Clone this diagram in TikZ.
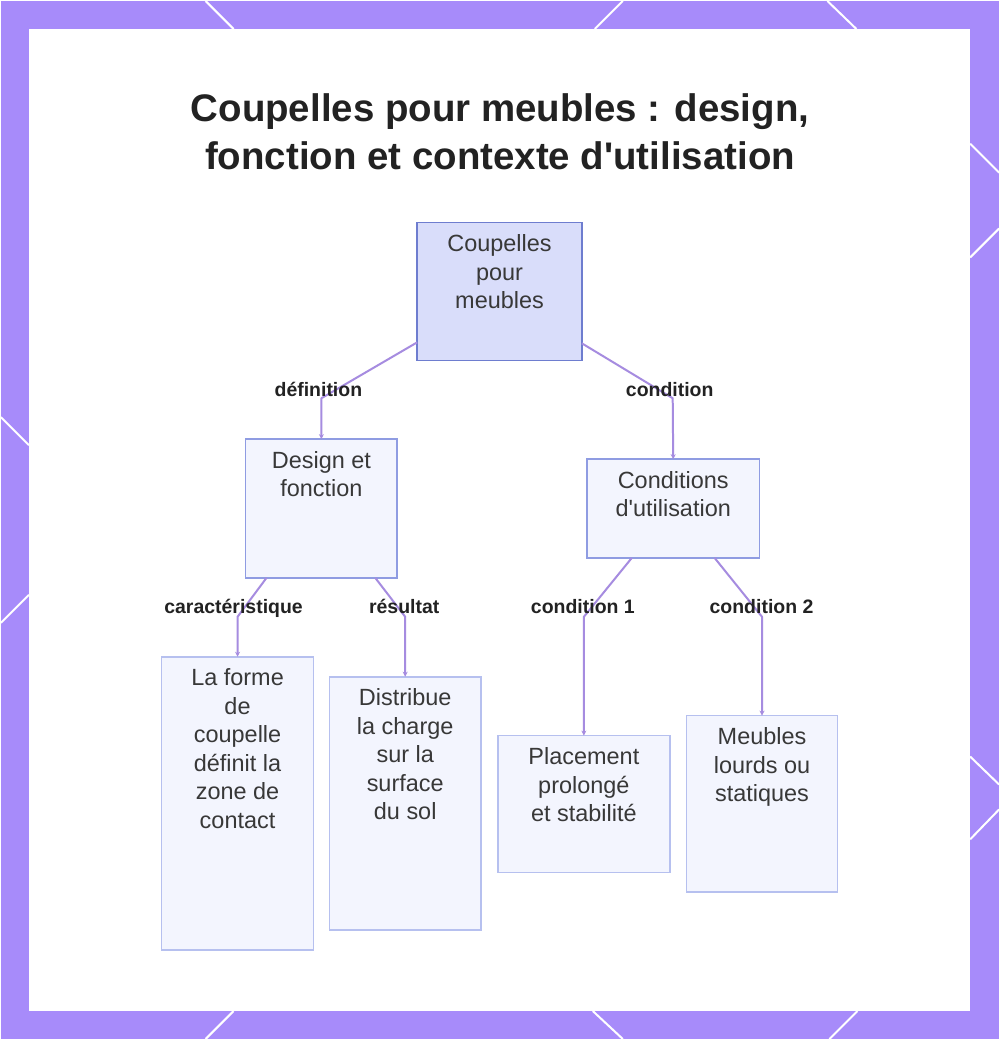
\documentclass[tikz,border=0pt]{standalone}
\usepackage{fontspec}
\setmainfont{Liberation Sans}[Ligatures=TeXOff]
\usetikzlibrary{arrows.meta, positioning}
\definecolor{framec}{HTML}{A78BFA}
\definecolor{rootfill}{HTML}{D9DDFA}
\definecolor{rootline}{HTML}{6E7DCF}
\definecolor{midline}{HTML}{8F9CE2}
\definecolor{leafline}{HTML}{B6C0EF}
\definecolor{boxfill}{HTML}{F3F5FE}
\definecolor{connc}{HTML}{A68CE0}
\definecolor{inkc}{HTML}{222222}
\tikzset{
  cut/.style    ={draw=white, line width=2pt},
  box/.style    ={draw=midline, fill=boxfill, line width=1.6pt, anchor=north west,
                  inner sep=0pt, outer sep=0pt},
  rootbox/.style={box, draw=rootline, fill=rootfill},
  leafbox/.style={box, draw=leafline},
  txt/.style    ={align=center, inner sep=0pt, text=inkc!90,
                  font=\fontsize{23.5}{28.5}\selectfont},
  lbl/.style    ={inner sep=0pt, anchor=base, text=inkc, font=\fontsize{19.5}{22}\selectfont\bfseries},
  conn/.style   ={draw=connc, line width=2pt, line join=round,
                  -{Stealth[length=5pt, width=5pt]}},
  title/.style  ={align=center, text=inkc, font=\fontsize{38.5}{48}\selectfont\bfseries},
}
\begin{document}
\begin{tikzpicture}[x=1pt, y=-1pt]
  % frame
  \fill[framec] (0,0) rectangle (1000,1040);
  \fill[white] (28,28) rectangle (971,1012);
  \foreach \xa/\ya/\xb/\yb in {205/0/233/28, 623/0/595/28, 828/0/857/28,
      971/143/1000/172, 1000/228/971/257, 971/757/1000/785, 1000/810/971/840,
      233/1012/205/1040, 593/1012/623/1040, 858/1012/830/1040,
      0/417/28/445, 28/595/0/623}
    \draw[cut] (\xa,\ya) -- (\xb,\yb);

  \node[title] (title) at (500,131) {Coupelles pour meubles : design,\\fonction et contexte d'utilisation};

  % boxes
  \node[rootbox, minimum width=165pt, minimum height=138pt] (root)   at (417,222) {};
  \node[box,     minimum width=152pt, minimum height=139pt] (design) at (245,439) {};
  \node[box,     minimum width=173pt, minimum height=99pt]  (cond)   at (587,459) {};
  \node[leafbox, minimum width=152pt, minimum height=294pt] (forme)  at (161,657) {};
  \node[leafbox, minimum width=152pt, minimum height=254pt] (charge) at (329,677) {};
  \node[leafbox, minimum width=172pt, minimum height=137pt] (place)  at (498,736) {};
  \node[leafbox, minimum width=151pt, minimum height=177pt] (lourds) at (687,716) {};

  \node[txt, below=12pt of root.north]   (rootT)   {Coupelles\\pour\\meubles};
  \node[txt, below=12pt of design.north] (designT) {Design et\\fonction};
  \node[txt, below=12pt of cond.north]   (condT)   {Conditions\\d'utilisation};
  \node[txt, below=12pt of forme.north]  (formeT)  {La forme\\de\\coupelle\\définit la\\zone de\\contact};
  \node[txt, below=12pt of charge.north] (chargeT) {Distribue\\la charge\\sur la\\surface\\du sol};
  \node[txt, below=12pt of place.north]  (placeT)  {Placement\\prolongé\\et stabilité};
  \node[txt, below=12pt of lourds.north] (lourdsT) {Meubles\\lourds ou\\statiques};

  % bends
  \coordinate (b1) at (321,398);
  \coordinate (b2) at (673,398);
  \coordinate (b3) at (237,617);
  \coordinate (b4) at (405,617);
  \coordinate (b5) at (584,617);
  \coordinate (b6) at (762.5,617);

  \draw[conn] ([yshift=18pt]root.south west)   -- (b1) -- (design.north);
  \draw[conn] ([yshift=17pt]root.south east)   -- (b2) -- (cond.north);
  \draw[conn] ([xshift=21pt]design.south west) -- (b3) -- (forme.north);
  \draw[conn] ([xshift=-22pt]design.south east) -- (b4) -- (charge.north);
  \draw[conn] ([xshift=45pt]cond.south west)   -- (b5) -- (place.north);
  \draw[conn] ([xshift=-45pt]cond.south east)  -- (b6) -- (lourds.north);

  \node[lbl] (l1) at (318,396) {définition};
  \node[lbl] (l2) at (670,396) {condition};
  \node[lbl] (l3) at (233,614) {caractéristique};
  \node[lbl] (l4) at (404,614) {résultat};
  \node[lbl] (l5) at (583,614) {condition 1};
  \node[lbl] (l6) at (762,614) {condition 2};
\end{tikzpicture}
\end{document}
